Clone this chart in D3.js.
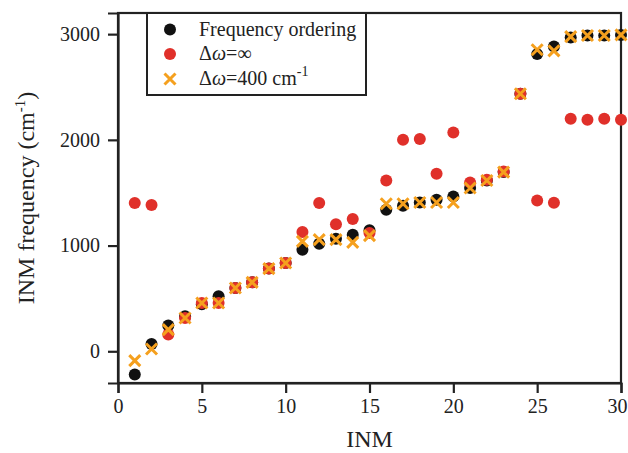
<!DOCTYPE html>
<html><head><meta charset="utf-8">
<script src="https://cdn.jsdelivr.net/npm/d3@7"></script>
<style>body{margin:0;background:#fff}svg{display:block}text{font-family:"Liberation Serif","Times New Roman",serif;fill:#222}</style>
</head><body>
<script>
const inm = d3.range(1, 31);
const freqOrdering = [-220,70,243,331,445,520,599,652,782,835,961,1018,1065,1103,1144,1339,1377,1408,1434,1465,1544,1616,1695,2436,2811,2883,2968,2987,2987,2993];
const deltaInf =     [1403,1383,158,315,457,457,599,652,782,835,1128,1403,1201,1251,1120,1616,2001,2007,1680,2070,1597,1623,1701,2436,1427,1405,2199,2190,2199,2190];
const delta400 =     [-88,22,205,315,457,457,599,652,782,835,1040,1056,1056,1030,1094,1396,1396,1408,1408,1408,1544,1616,1695,2436,2852,2842,2977,2987,2987,2993];
const xTicks = [0,5,10,15,20,25,30];
const yTicks = [0,1000,2000,3000];

const W = 628, H = 453;
const m = {l:118, r:7, t:13, b:70};
const svg = d3.select("body").append("svg").attr("width", W).attr("height", H);
const x = d3.scaleLinear().domain([0,30]).range([m.l, W-m.r]);
const y = d3.scaleLinear().domain([-300,3200]).range([H-m.b, m.t]);

const red = "#e0302a", orange = "#f5a01e", black = "#111";

// frame
svg.append("rect").attr("x", m.l).attr("y", m.t).attr("width", W-m.r-m.l).attr("height", H-m.b-m.t)
  .attr("fill","none").attr("stroke","#222").attr("stroke-width",2.2);

const xa = svg.append("g").attr("transform",`translate(0,${H-m.b})`)
  .call(d3.axisBottom(x).tickValues(xTicks).tickSize(10).tickPadding(6).tickFormat(d3.format("d")));
const ya = svg.append("g").attr("transform",`translate(${m.l},0)`)
  .call(d3.axisLeft(y).tickValues(yTicks).tickSize(10).tickPadding(8).tickFormat(d3.format("d")));
[xa, ya].forEach(a => {
  a.select(".domain").attr("stroke","#222").attr("stroke-width",2.2);
  a.selectAll(".tick line").attr("stroke","#222").attr("stroke-width",2.2);
  a.selectAll(".tick text").style("font-size","20px").attr("fill","#222");
});
xa.selectAll(".tick text").filter(d => d === 30).attr("text-anchor","end").attr("dx", 6);

const cross = (g, cx, cy, s) => {
  g.append("path").attr("d",`M${cx-s},${cy-s}L${cx+s},${cy+s}M${cx-s},${cy+s}L${cx+s},${cy-s}`)
   .attr("stroke",orange).attr("stroke-width",3).attr("fill","none");
};

const gB = svg.append("g");
gB.selectAll("circle").data(freqOrdering).join("circle")
  .attr("cx",(d,i)=>x(inm[i])).attr("cy",d=>y(d)).attr("r",6).attr("fill",black);
const gR = svg.append("g");
gR.selectAll("circle").data(deltaInf).join("circle")
  .attr("cx",(d,i)=>x(inm[i])).attr("cy",d=>y(d)).attr("r",6).attr("fill",red);
const gO = svg.append("g");
delta400.forEach((d,i)=>cross(gO, x(inm[i]), y(d), 5.5));

// axis titles
svg.append("text").attr("x", (m.l + W - m.r)/2).attr("y", 447).attr("text-anchor","middle")
  .style("font-size","24px").text("INM");
const yt = svg.append("text").attr("transform",`translate(34,${(m.t + H - m.b)/2}) rotate(-90)`)
  .attr("text-anchor","middle").style("font-size","24px");
yt.append("tspan").text("INM frequency (cm");
yt.append("tspan").attr("dy",-9).style("font-size","15px").text("-1");
yt.append("tspan").attr("dy",9).text(")");

// legend
const lg = svg.append("g");
lg.append("rect").attr("x",147).attr("y",m.t).attr("width",219).attr("height",82)
  .attr("fill","#fff").attr("stroke","#222").attr("stroke-width",2);
const rows = [29.5, 54, 79];
lg.append("circle").attr("cx",170).attr("cy",rows[0]).attr("r",6).attr("fill",black);
lg.append("circle").attr("cx",170).attr("cy",rows[1]).attr("r",6).attr("fill",red);
cross(lg, 170, rows[2], 5.5);
lg.append("text").attr("x",199).attr("y",rows[0]+6).style("font-size","20px").text("Frequency ordering");
const t2 = lg.append("text").attr("x",199).attr("y",rows[1]+6).style("font-size","20px");
t2.append("tspan").text("Δ"); t2.append("tspan").style("font-style","italic").text("ω"); t2.append("tspan").text("=∞");
const t3 = lg.append("text").attr("x",199).attr("y",rows[2]+6).style("font-size","20px");
t3.append("tspan").text("Δ"); t3.append("tspan").style("font-style","italic").text("ω"); t3.append("tspan").text("=400 cm");
t3.append("tspan").attr("dy",-9).style("font-size","14px").text("-1");
</script>
</body></html>
